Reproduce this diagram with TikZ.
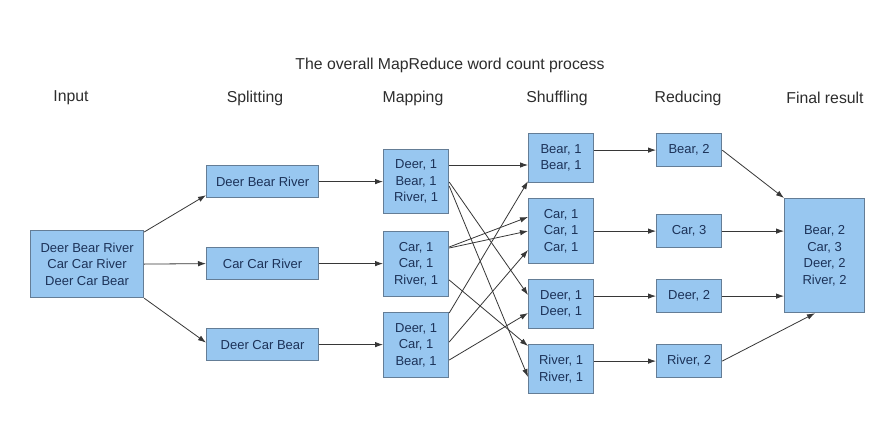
\documentclass[tikz,border=0pt]{standalone}
\usepackage{fontspec}
\setmainfont{Liberation Sans}
\usetikzlibrary{arrows.meta}
\definecolor{boxfill}{RGB}{152,199,240}
\definecolor{boxdraw}{RGB}{100,125,150}
\definecolor{boxtext}{RGB}{28,50,88}
\definecolor{linecol}{RGB}{55,55,55}
\definecolor{headcol}{RGB}{45,45,45}
\begin{document}
\begin{tikzpicture}[x=1pt,y=-1pt,
  box/.style={draw=boxdraw, line width=1.2pt, fill=boxfill, text=boxtext,
    font=\fontsize{13}{16.5}\selectfont, align=center, inner sep=0pt, anchor=north west},
  head/.style={font=\fontsize{15.8}{18}\selectfont, text=headcol},
  arr/.style={draw=linecol, line width=0.8pt, -{Latex[length=8pt,width=5.5pt]}}]
\useasboundingbox[fill=white] (0,0) rectangle (892,421);
% headings
\node[head] (title) at (450,65) {The overall MapReduce word count process};
\node[head] (hin) at (71,98) {Input};
\node[head] (hsp) at (255,98) {Splitting};
\node[head] (hma) at (413,98) {Mapping};
\node[head] (hsh) at (557,98) {Shuffling};
\node[head] (hre) at (688,98) {Reducing};
\node[head] (hfi) at (825,98) {Final result};
% input
\node[box, minimum width=113pt, minimum height=67pt] (in) at (30,230) {Deer Bear River\\Car Car River\\Deer Car Bear};
% splitting
\node[box, minimum width=112pt, minimum height=32pt] (s1) at (206,165) {Deer Bear River};
\node[box, minimum width=112pt, minimum height=32pt] (s2) at (206,247) {Car Car River};
\node[box, minimum width=112pt, minimum height=32pt] (s3) at (206,328) {Deer Car Bear};
% mapping
\node[box, minimum width=65pt, minimum height=64pt] (m1) at (383,149) {Deer, 1\\Bear, 1\\River, 1};
\node[box, minimum width=65pt, minimum height=65pt] (m2) at (383,231) {Car, 1\\Car, 1\\River, 1};
\node[box, minimum width=65pt, minimum height=65pt] (m3) at (383,312) {Deer, 1\\Car, 1\\Bear, 1};
% shuffling
\node[box, minimum width=65pt, minimum height=49pt] (h1) at (528,133) {Bear, 1\\Bear, 1};
\node[box, minimum width=65pt, minimum height=65pt] (h2) at (528,198) {Car, 1\\Car, 1\\Car, 1};
\node[box, minimum width=65pt, minimum height=49pt] (h3) at (528,279) {Deer, 1\\Deer, 1};
\node[box, minimum width=65pt, minimum height=49pt] (h4) at (528,344) {River, 1\\River, 1};
% reducing
\node[box, minimum width=65pt, minimum height=33pt] (r1) at (656,133) {Bear, 2};
\node[box, minimum width=65pt, minimum height=33pt] (r2) at (656,214) {Car, 3};
\node[box, minimum width=65pt, minimum height=33pt] (r3) at (656,279) {Deer, 2};
\node[box, minimum width=65pt, minimum height=33pt] (r4) at (656,344) {River, 2};
% final
\node[box, minimum width=80pt, minimum height=114pt] (fi) at (784,198) {Bear, 2\\Car, 3\\Deer, 2\\River, 2};
% input -> splitting
\draw[arr] ([yshift=-2pt]in.north east) -- ([yshift=3pt]s1.south west);
\draw[arr] (in.east) -- (s2.west);
\draw[arr] (in.south east) -- ([yshift=2pt]s3.west);
% splitting -> mapping
\draw[arr] (s1.east) -- (s1.east -| m1.west);
\draw[arr] (s2.east) -- (s2.east -| m2.west);
\draw[arr] (s3.east) -- (s3.east -| m3.west);
% mapping -> shuffling
\draw[arr] ([yshift=-16pt]m1.north east) -- ([yshift=-32pt]h1.north west);
\draw[arr] ([yshift=-33pt]m1.north east) -- ([yshift=-16pt]h3.north west);
\draw[arr] ([yshift=-37pt]m1.north east) -- ([yshift=-33pt]h4.north west);
\draw[arr] ([yshift=-16pt]m2.north east) -- ([yshift=-19pt]h2.north west);
\draw[arr] ([yshift=-17pt]m2.north east) -- ([yshift=-33pt]h2.north west);
\draw[arr] ([yshift=-49pt]m2.north east) -- ([yshift=-2pt]h4.north west);
\draw[arr] ([yshift=-1pt]m3.north east) -- ([yshift=2pt]h1.south west);
\draw[arr] ([yshift=-30pt]m3.north east) -- ([yshift=-52pt]h2.north west);
\draw[arr] ([yshift=-48pt]m3.north east) -- ([yshift=-34pt]h3.north west);
% shuffling -> reducing
\draw[arr] (h1.east |- r1.west) -- (r1.west);
\draw[arr] (h2.east |- r2.west) -- (r2.west);
\draw[arr] (h3.east |- r3.west) -- (r3.west);
\draw[arr] (h4.east |- r4.west) -- (r4.west);
% reducing -> final
\draw[arr] (r1.east) -- (fi.north west);
\draw[arr] (r2.east) -- (r2.east -| fi.west);
\draw[arr] (r3.east) -- (r3.east -| fi.west);
\draw[arr] (r4.east) -- ([xshift=31pt]fi.south west);
\end{tikzpicture}
\end{document}
